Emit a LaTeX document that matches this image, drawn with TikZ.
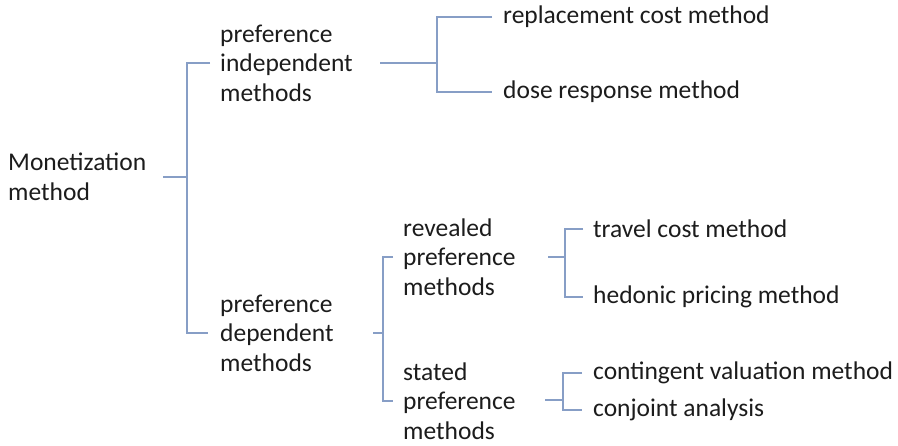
\documentclass[tikz,border=0pt]{standalone}
\usepackage{fontspec}
\setmainfont{Carlito}
\usetikzlibrary{positioning,calc}

\definecolor{linkblue}{RGB}{135,158,198}
\definecolor{textgray}{RGB}{28,28,28}

\tikzset{
  item/.style={anchor=west, inner sep=0pt, align=left, text=textgray,
    font=\fontsize{25.5}{29.5}\selectfont},
  branch/.style={draw=linkblue, line width=1.3pt},
}

\begin{document}
\begin{tikzpicture}[x=1pt,y=-1pt]
\useasboundingbox (0,0) rectangle (898,445);

% text nodes
\node[item] (mon) at (8,177) {Monetization\\method};
\node[item] (indep) at (220,63) {preference\\independent\\methods};
\node[item] (dep) at (220,333) {preference\\dependent\\methods};
\node[item] (repl) at (503,17) {replacement cost method};
\node[item] (dose) at (503,92) {dose response method};
\node[item] (rev) at (403,257) {revealed\\preference\\methods};
\node[item] (stat) at (403,401) {stated\\preference\\methods};
\node[item] (travel) at (593,229) {travel cost method};
\node[item] (hedonic) at (593,297) {hedonic pricing method};
\node[item] (cont) at (593,373) {contingent valuation method};
\node[item] (conj) at (593,410) {conjoint analysis};

% stub starts and spine junctions
\coordinate (a1) at (163,177); \coordinate (s1) at (187,177);
\coordinate (a2) at (380,63);  \coordinate (s2) at (437,63);
\coordinate (a3) at (373,333); \coordinate (s3) at (383,333);
\coordinate (a4) at (548,257); \coordinate (s4) at (565,257);
\coordinate (a5) at (545,400); \coordinate (s5) at (563,400);

% brackets
\draw[branch] (a1) -- (s1);
\draw[branch] ([xshift=-10pt]indep.west) -| (s1 |- dep.west) -- ([xshift=-12pt]dep.west);
\draw[branch] (a2) -- (s2);
\draw[branch] ([xshift=-11pt]repl.west) -| (s2 |- dose.west) -- ([xshift=-11pt]dose.west);
\draw[branch] (a3) -- (s3);
\draw[branch] ([xshift=-10pt]rev.west) -| (s3 |- stat.west) -- ([xshift=-10pt]stat.west);
\draw[branch] (a4) -- (s4);
\draw[branch] ([xshift=-10pt]travel.west) -| (s4 |- hedonic.west) -- ([xshift=-10pt]hedonic.west);
\draw[branch] (a5) -- (s5);
\draw[branch] ([xshift=-11pt]cont.west) -| (s5 |- conj.west) -- ([xshift=-11pt]conj.west);
\end{tikzpicture}
\end{document}
